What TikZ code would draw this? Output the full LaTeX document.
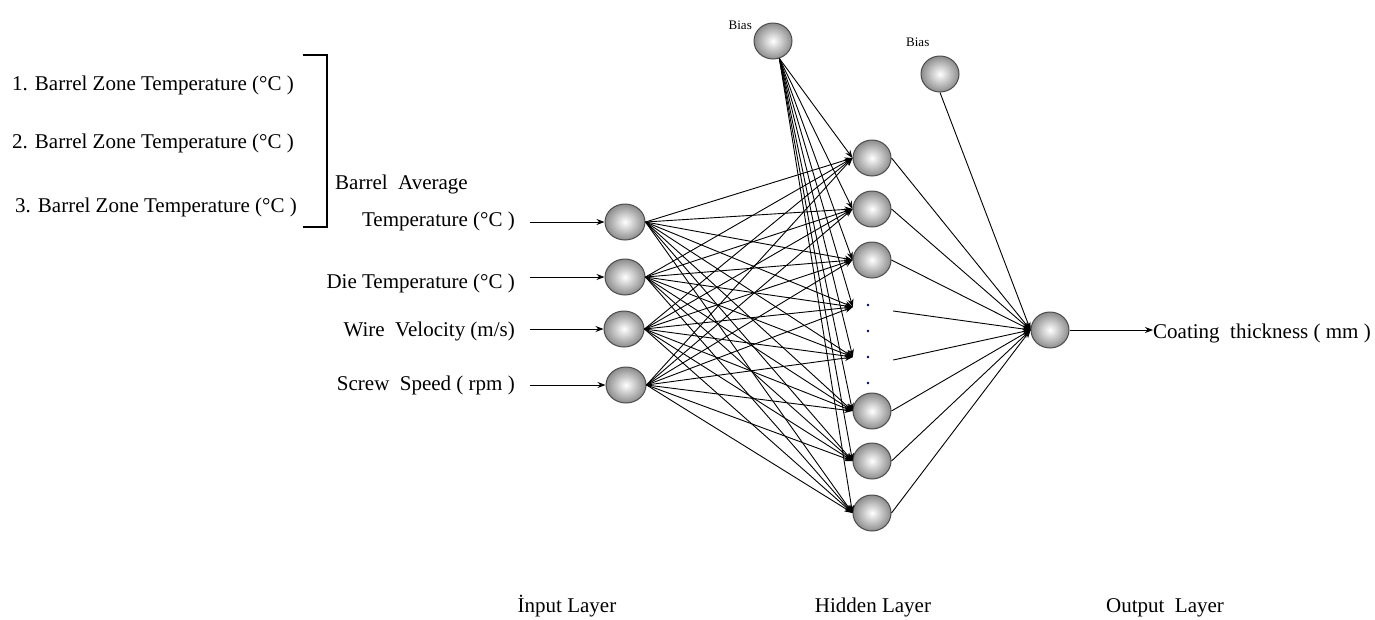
\documentclass[tikz,border=0pt]{standalone}
\usepackage{fontspec}
\setmainfont{Liberation Serif}
\usetikzlibrary{arrows.meta,shapes.geometric}
\begin{document}
\begin{tikzpicture}[x=1pt,y=-1pt,
  neuron/.style={ellipse, minimum width=40pt, minimum height=36pt, inner sep=0pt,
    draw=black!70, line width=1pt, shading=radial, inner color=white, outer color=black!45},
  conn/.style={line width=0.9pt, -{Stealth[length=8pt,width=6pt]}},
  lbl/.style={font=\fontsize{21}{24}\selectfont, inner sep=0pt},
  small/.style={font=\fontsize{13}{15}\selectfont, inner sep=0pt},
  pt/.style={inner sep=0pt, minimum size=0pt}]
\useasboundingbox (0,0) rectangle (1375,619);

% left texts
\node[lbl, anchor=base west] (z1) at (12,90) {1. Barrel Zone Temperature (°C )};
\node[lbl, anchor=base west] (z2) at (12,148) {2. Barrel Zone Temperature (°C )};
\node[lbl, anchor=base west] (z3) at (15,212) {3. Barrel Zone Temperature (°C )};
\draw[line width=1.3pt] (303,55) -- (327,55) -- (327,227) -- (303,227);

\node[lbl, anchor=base west] (bav) at (335,189) {Barrel\ \ Average};
\node[lbl, anchor=base east] (t1) at (515,226) {Temperature (°C )};
\node[lbl, anchor=base east] (t2) at (515,288) {Die Temperature (°C )};
\node[lbl, anchor=base east] (t3) at (515,336) {Wire\ \ Velocity (m/s)};
\node[lbl, anchor=base east] (t4) at (515,390) {Screw\ \ Speed ( rpm )};

% input neurons
\node[neuron] (i1) at (625,222) {};
\node[neuron] (i2) at (625,277) {};
\node[neuron] (i3) at (624,329) {};
\node[neuron] (i4) at (626,385) {};

\coordinate (a1) at (530,222);
\coordinate (a2) at (530,277);
\coordinate (a3) at (530,329);
\coordinate (a4) at (530,385);
\draw[conn] (a1) -- (i1.west);
\draw[conn] (a2) -- (i2.west);
\draw[conn] (a3) -- (i3.west);
\draw[conn] (a4) -- (i4.west);

% hidden neurons
\node[neuron, minimum width=38pt] (h1) at (872,158) {};
\node[neuron, minimum width=38pt] (h2) at (872,209) {};
\node[neuron, minimum width=38pt] (h3) at (872,260) {};
\node[neuron, minimum width=38pt] (h4) at (872,411) {};
\node[neuron, minimum width=38pt] (h5) at (872,461) {};
\node[neuron, minimum width=38pt] (h6) at (872,513) {};
\node[pt] (d1) at (853,307) {};
\node[pt] (d2) at (853,357) {};
\node[pt] (e1) at (893,311) {};
\node[pt] (e2) at (893,360) {};

\foreach \y in {305,331,357,383} \fill[black!70!blue] (868,\y) circle (1.4pt);

% bias neurons
\node[neuron, minimum width=38pt] (b1) at (773,41) {};
\node[neuron, minimum width=38pt] (b2) at (940,74) {};
\node[small, anchor=base east] (bl1) at (752,29) {Bias};
\node[small, anchor=base west] (bl2) at (906,46) {Bias};

% output neuron
\node[neuron, minimum width=38pt] (o) at (1050,330) {};
\node[lbl, anchor=base west] (ct) at (1153,338) {Coating\ \ thickness ( mm )};
\draw[conn] (o.east) -- (ct.west |- o.east);

% input -> hidden
\foreach \i in {i1,i2,i3,i4}
  \foreach \h in {h1,h2,h3,d1,d2,h4,h5,h6}
    \draw[conn] (\i.east) -- (\h.west);

% bias -> hidden
\foreach \h in {h1,h2,h3,d1,d2,h4,h5,h6}
  \draw[conn] (b1.-70) -- (\h.west);

% hidden -> output
\foreach \h in {h1,h2,h3,e1,e2,h4,h5,h6}
  \draw[conn] (\h.east) -- (o.west);
\draw[conn] (b2.south) -- (o.west);

% layer labels
\node[lbl, anchor=base] (L1) at (567,612) {İnput Layer};
\node[lbl, anchor=base] (L2) at (873,612) {Hidden Layer};
\node[lbl, anchor=base] (L3) at (1165,612) {Output\ \ Layer};
\end{tikzpicture}
\end{document}
